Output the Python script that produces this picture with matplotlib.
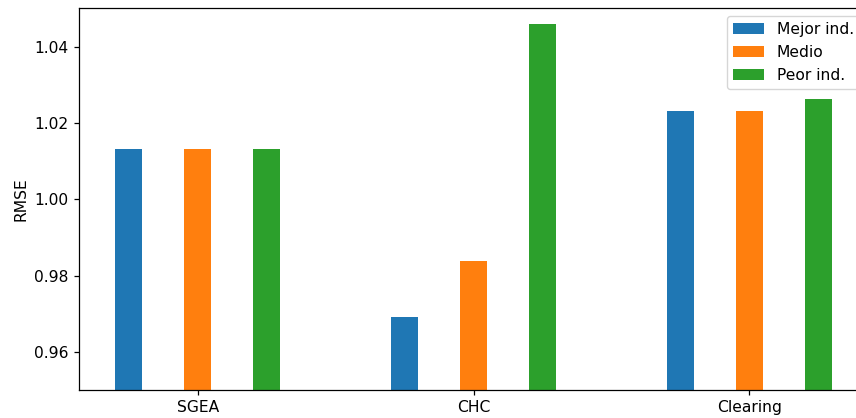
import numpy as np
import matplotlib.pyplot as plt

metodos = ['SGEA', 'CHC', 'Clearing']
mejor = [1.0132, 0.9692, 1.0232]
medio = [1.0132, 0.9839, 1.0232]
peor = [1.0132, 1.0460, 1.0263]

x = np.arange(len(metodos))
w = 0.1

# the reference looks rendered a bit larger than 100 dpi
k = 1.12
plt.rcParams['font.size'] = 10 * k
plt.rcParams['axes.linewidth'] = 0.8 * k
plt.rcParams['xtick.major.size'] = 3.5 * k
plt.rcParams['ytick.major.size'] = 3.5 * k
plt.rcParams['xtick.major.width'] = 0.8 * k
plt.rcParams['ytick.major.width'] = 0.8 * k

fig = plt.figure(figsize=(8.56, 4.18), dpi=100)
# the original figure was cropped on the right, so the axes run past the edge
ax = fig.add_axes([79/856, 28/418, 789/856, 382/418])

ax.bar(x - 0.25, mejor, w, label='Mejor ind.')
ax.bar(x, medio, w, label='Medio')
ax.bar(x + 0.25, peor, w, label='Peor ind.')

ax.set_xticks(x)
ax.set_xticklabels(metodos)
ax.set_ylabel('RMSE')
ax.set_ylim(0.95, 1.0502)
ax.set_xlim(-0.43, 2.43)
ax.legend(loc='upper right')

fig.savefig('out.png', dpi=100)
